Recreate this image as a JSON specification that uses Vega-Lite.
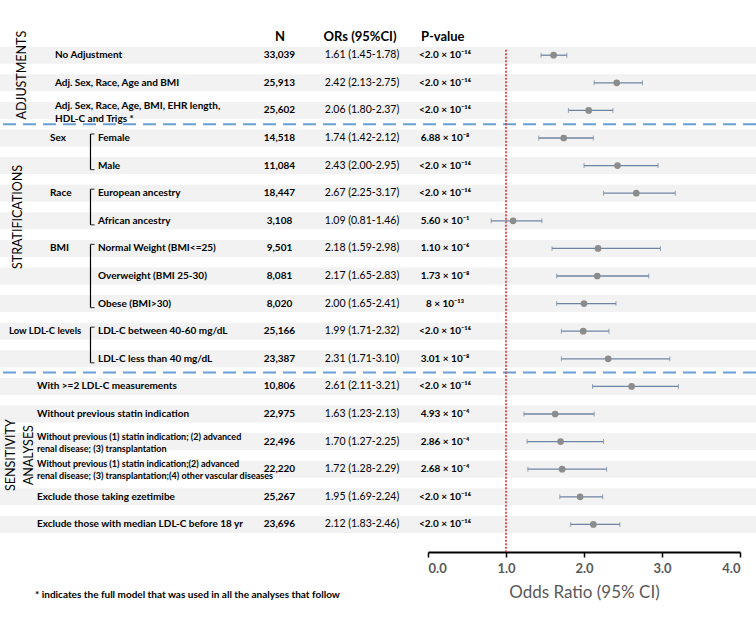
{
  "$schema": "https://vega.github.io/schema/vega-lite/v6.json",
  "width": 756,
  "height": 552,
  "autosize": {"type": "none"},
  "padding": {"left": 0, "top": 0, "right": 0, "bottom": 72},
  "background": "white",
  "config": {
    "view": {"stroke": null},
    "text": {"font": "Lato", "color": "#000000"}
  },
  "datasets": {
    "rows": [
      {"row": 1, "section": "Adjustments", "label": "No Adjustment", "n": "33,039", "or": 1.61, "lo": 1.45, "hi": 1.78, "ci": "1.61 (1.45-1.78)", "p": "<2.0 × 10⁻¹⁶"},
      {"row": 2, "section": "Adjustments", "label": "Adj. Sex, Race, Age and BMI", "n": "25,913", "or": 2.42, "lo": 2.13, "hi": 2.75, "ci": "2.42 (2.13-2.75)", "p": "<2.0 × 10⁻¹⁶"},
      {"row": 3, "section": "Adjustments", "label": "Adj. Sex, Race, Age, BMI, EHR length,\n\u00a0\u00a0\u00a0\u00a0\u00a0\u00a0\u00a0\u00a0HDL-C and Trigs *", "n": "25,602", "or": 2.06, "lo": 1.80, "hi": 2.37, "ci": "2.06 (1.80-2.37)", "p": "<2.0 × 10⁻¹⁶"},
      {"row": 4, "section": "Stratifications", "group": "Sex", "label": "Female", "n": "14,518", "or": 1.74, "lo": 1.42, "hi": 2.12, "ci": "1.74 (1.42-2.12)", "p": "6.88 × 10⁻⁸"},
      {"row": 5, "section": "Stratifications", "group": "Sex", "label": "Male", "n": "11,084", "or": 2.43, "lo": 2.00, "hi": 2.95, "ci": "2.43 (2.00-2.95)", "p": "<2.0 × 10⁻¹⁶"},
      {"row": 6, "section": "Stratifications", "group": "Race", "label": "European  ancestry", "n": "18,447", "or": 2.67, "lo": 2.25, "hi": 3.17, "ci": "2.67 (2.25-3.17)", "p": "<2.0 × 10⁻¹⁶"},
      {"row": 7, "section": "Stratifications", "group": "Race", "label": "African ancestry", "n": "3,108", "or": 1.09, "lo": 0.81, "hi": 1.46, "ci": "1.09 (0.81-1.46)", "p": "5.60 × 10⁻¹"},
      {"row": 8, "section": "Stratifications", "group": "BMI", "label": "Normal  Weight (BMI<=25)", "n": "9,501", "or": 2.18, "lo": 1.59, "hi": 2.98, "ci": "2.18 (1.59-2.98)", "p": "1.10 × 10⁻⁶"},
      {"row": 9, "section": "Stratifications", "group": "BMI", "label": "Overweight (BMI 25-30)", "n": "8,081", "or": 2.17, "lo": 1.65, "hi": 2.83, "ci": "2.17 (1.65-2.83)", "p": "1.73 × 10⁻⁸"},
      {"row": 10, "section": "Stratifications", "group": "BMI", "label": "Obese (BMI>30)", "n": "8,020", "or": 2.00, "lo": 1.65, "hi": 2.41, "ci": "2.00 (1.65-2.41)", "p": "8 × 10⁻¹³"},
      {"row": 11, "section": "Stratifications", "group": "Low LDL-C levels", "label": "LDL-C between 40-60 mg/dL", "n": "25,166", "or": 1.99, "lo": 1.71, "hi": 2.32, "ci": "1.99 (1.71-2.32)", "p": "<2.0 × 10⁻¹⁶"},
      {"row": 12, "section": "Stratifications", "group": "Low LDL-C levels", "label": "LDL-C less than 40 mg/dL", "n": "23,387", "or": 2.31, "lo": 1.71, "hi": 3.10, "ci": "2.31 (1.71-3.10)", "p": "3.01 × 10⁻⁸"},
      {"row": 13, "section": "Sensitivity", "label": "With >=2 LDL-C measurements", "n": "10,806", "or": 2.61, "lo": 2.11, "hi": 3.21, "ci": "2.61 (2.11-3.21)", "p": "<2.0 × 10⁻¹⁶"},
      {"row": 14, "section": "Sensitivity", "label": "Without previous statin indication", "n": "22,975", "or": 1.63, "lo": 1.23, "hi": 2.13, "ci": "1.63 (1.23-2.13)", "p": "4.93 × 10⁻⁴"},
      {"row": 15, "section": "Sensitivity", "label": "Without  previous (1) statin indication; (2) advanced\n\u00a0renal disease; (3) transplantation", "n": "22,496", "or": 1.70, "lo": 1.27, "hi": 2.25, "ci": "1.70 (1.27-2.25)", "p": "2.86 × 10⁻⁴"},
      {"row": 16, "section": "Sensitivity", "label": "Without  previous (1) statin indication;(2) advanced\nrenal disease; (3) transplantation;(4) other vascular diseases", "n": "22,220", "or": 1.72, "lo": 1.28, "hi": 2.29, "ci": "1.72 (1.28-2.29)", "p": "2.68 × 10⁻⁴"},
      {"row": 17, "section": "Sensitivity", "label": "Exclude those taking ezetimibe", "n": "25,267", "or": 1.95, "lo": 1.69, "hi": 2.24, "ci": "1.95 (1.69-2.24)", "p": "<2.0 × 10⁻¹⁶"},
      {"row": 18, "section": "Sensitivity", "label": "Exclude those with median LDL-C before 18 yr", "n": "23,696", "or": 2.12, "lo": 1.83, "hi": 2.46, "ci": "2.12 (1.83-2.46)", "p": "<2.0 × 10⁻¹⁶"}
    ],
    "one": [{}]
  },
  "data": {"name": "rows"},
  "layer": [
    {
      "mark": {"type": "rule", "strokeWidth": 17, "color": "#f2f2f2", "strokeCap": "butt"},
      "encoding": {
        "y": {"field": "row", "type": "quantitative", "axis": null, "scale": {"domain": [-1, 19], "reverse": true, "nice": false, "zero": false}}
      }
    },
    {
      "data": {"name": "one"},
      "mark": {"type": "rule", "strokeWidth": 2, "color": "#6a9fd6", "strokeDash": [13, 7]},
      "encoding": {"y": {"datum": 3.5, "type": "quantitative", "axis": null}}
    },
    {
      "data": {"name": "one"},
      "mark": {"type": "rule", "strokeWidth": 2, "color": "#6a9fd6", "strokeDash": [13, 7]},
      "encoding": {"y": {"datum": 12.5, "type": "quantitative", "axis": null}}
    },
    {
      "data": {"name": "one"},
      "mark": {"type": "rule", "strokeWidth": 1.5, "color": "#e0201b", "strokeDash": [2, 1.5]},
      "encoding": {
        "x": {"datum": 1, "type": "quantitative"},
        "y": {"datum": 0.8, "type": "quantitative", "axis": null},
        "y2": {"datum": 19}
      }
    },
    {
      "transform": [
        {"filter": "isValid(datum.group)"},
        {"aggregate": [{"op": "min", "field": "row", "as": "first"}, {"op": "max", "field": "row", "as": "last"}], "groupby": ["group"]}
      ],
      "layer": [
        {
          "mark": {"type": "rule", "color": "#000000", "strokeWidth": 1.2, "yOffset": -4, "y2Offset": 4},
          "encoding": {
            "x": {"datum": -4.327, "type": "quantitative"},
            "y": {"field": "first", "type": "quantitative", "axis": null},
            "y2": {"field": "last"}
          }
        },
        {
          "mark": {"type": "tick", "orient": "horizontal", "size": 4, "thickness": 1.2, "color": "#000000", "yOffset": -4},
          "encoding": {
            "x": {"datum": -4.301, "type": "quantitative"},
            "y": {"field": "first", "type": "quantitative", "axis": null}
          }
        },
        {
          "mark": {"type": "tick", "orient": "horizontal", "size": 4, "thickness": 1.2, "color": "#000000", "yOffset": 4},
          "encoding": {
            "x": {"datum": -4.301, "type": "quantitative"},
            "y": {"field": "last", "type": "quantitative", "axis": null}
          }
        },
        {
          "transform": [{"filter": "datum.group != 'Low LDL-C levels'"}],
          "mark": {"type": "text", "align": "left", "baseline": "middle", "fontSize": 10, "fontWeight": "bold"},
          "encoding": {
            "x": {"datum": -4.846, "type": "quantitative"},
            "y": {"field": "first", "type": "quantitative", "axis": null},
            "text": {"field": "group"}
          }
        },
        {
          "transform": [{"filter": "datum.group == 'Low LDL-C levels'"}],
          "mark": {"type": "text", "align": "left", "baseline": "middle", "fontSize": 9.5, "fontWeight": "bold"},
          "encoding": {
            "x": {"datum": -5.372, "type": "quantitative"},
            "y": {"field": "first", "type": "quantitative", "axis": null},
            "text": {"field": "group"}
          }
        }
      ]
    },
    {
      "transform": [{"filter": "datum.section == 'Adjustments' && indexof(datum.label, '\\n') < 0"}],
      "mark": {"type": "text", "align": "left", "baseline": "middle", "fontSize": 10, "fontWeight": "bold"},
      "encoding": {
        "x": {"datum": -4.782, "type": "quantitative"},
        "y": {"field": "row", "type": "quantitative", "axis": null},
        "text": {"field": "label"}
      }
    },
    {
      "transform": [{"filter": "datum.section == 'Adjustments' && indexof(datum.label, '\\n') >= 0"}],
      "mark": {"type": "text", "align": "left", "baseline": "middle", "fontSize": 10, "fontWeight": "bold", "lineBreak": "\n", "lineHeight": 13, "yOffset": -4},
      "encoding": {
        "x": {"datum": -4.782, "type": "quantitative"},
        "y": {"field": "row", "type": "quantitative", "axis": null},
        "text": {"field": "label"}
      }
    },
    {
      "transform": [{"filter": "datum.section == 'Stratifications'"}],
      "mark": {"type": "text", "align": "left", "baseline": "middle", "fontSize": 10, "fontWeight": "bold"},
      "encoding": {
        "x": {"datum": -4.231, "type": "quantitative"},
        "y": {"field": "row", "type": "quantitative", "axis": null},
        "text": {"field": "label"}
      }
    },
    {
      "transform": [{"filter": "datum.section == 'Sensitivity' && indexof(datum.label, '\\n') < 0"}],
      "mark": {"type": "text", "align": "left", "baseline": "middle", "fontSize": 10, "fontWeight": "bold"},
      "encoding": {
        "x": {"datum": -5.013, "type": "quantitative"},
        "y": {"field": "row", "type": "quantitative", "axis": null},
        "text": {"field": "label"}
      }
    },
    {
      "transform": [{"filter": "datum.section == 'Sensitivity' && indexof(datum.label, '\\n') >= 0"}],
      "mark": {"type": "text", "align": "left", "baseline": "middle", "fontSize": 9, "fontWeight": "bold", "lineBreak": "\n", "lineHeight": 12, "yOffset": -5},
      "encoding": {
        "x": {"datum": -5.013, "type": "quantitative"},
        "y": {"field": "row", "type": "quantitative", "axis": null},
        "text": {"field": "label"}
      }
    },
    {
      "mark": {"type": "text", "align": "center", "baseline": "middle", "fontSize": 10, "fontWeight": "bold"},
      "encoding": {
        "x": {"datum": -1.904, "type": "quantitative"},
        "y": {"field": "row", "type": "quantitative", "axis": null},
        "text": {"field": "n"}
      }
    },
    {
      "mark": {"type": "text", "align": "center", "baseline": "middle", "fontSize": 10.5, "fontWeight": "normal"},
      "encoding": {
        "x": {"datum": -0.846, "type": "quantitative"},
        "y": {"field": "row", "type": "quantitative", "axis": null},
        "text": {"field": "ci"}
      }
    },
    {
      "mark": {"type": "text", "align": "center", "baseline": "middle", "fontSize": 10, "fontWeight": "bold"},
      "encoding": {
        "x": {"datum": 0.218, "type": "quantitative"},
        "y": {"field": "row", "type": "quantitative", "axis": null},
        "text": {"field": "p"}
      }
    },
    {
      "data": {"name": "one"},
      "layer": [
        {
          "mark": {"type": "text", "align": "center", "baseline": "middle", "fontSize": 13, "fontWeight": "bold", "text": "N"},
          "encoding": {"x": {"datum": -1.897, "type": "quantitative"}, "y": {"datum": 0.34, "type": "quantitative", "axis": null}}
        },
        {
          "mark": {"type": "text", "align": "center", "baseline": "middle", "fontSize": 13, "fontWeight": "bold", "text": "ORs (95%CI)"},
          "encoding": {"x": {"datum": -0.872, "type": "quantitative"}, "y": {"datum": 0.34, "type": "quantitative", "axis": null}}
        },
        {
          "mark": {"type": "text", "align": "left", "baseline": "middle", "fontSize": 13, "fontWeight": "bold", "text": "P-value"},
          "encoding": {"x": {"datum": -0.09, "type": "quantitative"}, "y": {"datum": 0.34, "type": "quantitative", "axis": null}}
        },
        {
          "mark": {"type": "text", "align": "center", "baseline": "middle", "fontSize": 12.5, "angle": 270, "text": "ADJUSTMENTS"},
          "encoding": {"x": {"datum": -5.205, "type": "quantitative"}, "y": {"datum": 1.72, "type": "quantitative", "axis": null}}
        },
        {
          "mark": {"type": "text", "align": "center", "baseline": "middle", "fontSize": 12.5, "angle": 270, "text": "STRATIFICATIONS"},
          "encoding": {"x": {"datum": -5.256, "type": "quantitative"}, "y": {"datum": 6.86, "type": "quantitative", "axis": null}}
        },
        {
          "mark": {"type": "text", "align": "center", "baseline": "middle", "fontSize": 12.5, "angle": 270, "text": "SENSITIVITY"},
          "encoding": {"x": {"datum": -5.346, "type": "quantitative"}, "y": {"datum": 15.49, "type": "quantitative", "axis": null}}
        },
        {
          "mark": {"type": "text", "align": "center", "baseline": "middle", "fontSize": 12.5, "angle": 270, "text": "ANALYSES"},
          "encoding": {"x": {"datum": -5.115, "type": "quantitative"}, "y": {"datum": 15.49, "type": "quantitative", "axis": null}}
        },
        {
          "mark": {"type": "text", "align": "left", "baseline": "middle", "fontSize": 10, "fontWeight": "bold", "text": "* indicates the full model that was used in all the analyses that follow"},
          "encoding": {"x": {"datum": -5.038, "type": "quantitative"}, "y": {"datum": 20.56, "type": "quantitative", "axis": null}}
        }
      ]
    },
    {
      "mark": {"type": "rule", "color": "#6e84a3", "strokeWidth": 1.3},
      "encoding": {
        "x": {
          "field": "lo", "type": "quantitative", "title": "Odds Ratio (95% CI)",
          "scale": {"domain": [0, 4], "range": [428, 740], "nice": false, "zero": false},
          "axis": {
            "values": [0, 1, 2, 3, 4], "format": ".1f", "grid": false,
            "domainColor": "#000000", "domainWidth": 2,
            "tickColor": "#000000", "tickWidth": 1.5, "tickSize": 5,
            "labelFont": "Lato", "labelFontSize": 13, "labelFontWeight": "bold", "labelColor": "#595959", "labelPadding": 5,
            "titleFont": "Lato", "titleFontSize": 17, "titleFontWeight": "normal", "titleColor": "#595959", "titlePadding": 9
          }
        },
        "x2": {"field": "hi"},
        "y": {"field": "row", "type": "quantitative", "axis": null}
      }
    },
    {
      "mark": {"type": "tick", "orient": "vertical", "size": 5, "thickness": 1, "color": "#6e84a3"},
      "encoding": {
        "x": {"field": "lo", "type": "quantitative", "title": "Odds Ratio (95% CI)"},
        "y": {"field": "row", "type": "quantitative", "axis": null}
      }
    },
    {
      "mark": {"type": "tick", "orient": "vertical", "size": 5, "thickness": 1, "color": "#6e84a3"},
      "encoding": {
        "x": {"field": "hi", "type": "quantitative", "title": "Odds Ratio (95% CI)"},
        "y": {"field": "row", "type": "quantitative", "axis": null}
      }
    },
    {
      "mark": {"type": "point", "filled": true, "color": "#8c8c8c", "size": 45, "opacity": 1},
      "encoding": {
        "x": {"field": "or", "type": "quantitative", "title": "Odds Ratio (95% CI)"},
        "y": {"field": "row", "type": "quantitative", "axis": null}
      }
    }
  ]
}
